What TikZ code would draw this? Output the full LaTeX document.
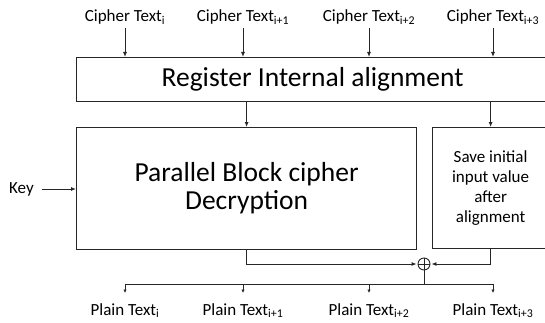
\documentclass[tikz,border=0pt]{standalone}
\usepackage{fontspec}
\setmainfont{Carlito}
\usetikzlibrary{arrows.meta}
\begin{document}
\begin{tikzpicture}[x=1pt,y=1pt,
  box/.style={draw=black!85, line width=1.2pt, anchor=north west, inner sep=0pt, align=center},
  lbl/.style={font=\fontsize{17}{20}\selectfont, inner sep=1pt},
  arr/.style={draw=black!85, line width=0.9pt, -{Latex[length=5pt,width=4pt]}},
  sarr/.style={draw=black!85, line width=0.9pt, -{Latex[length=3.5pt,width=3.5pt]}},
  ln/.style={draw=black!85, line width=0.9pt}]
\useasboundingbox (0,0) rectangle (545,322);
% top labels
\node[lbl, anchor=base] (c1) at (125,300) {Cipher Text\textsubscript{i}};
\node[lbl, anchor=base] (c2) at (243,300) {Cipher Text\textsubscript{i+1}};
\node[lbl, anchor=base] (c3) at (369,300) {Cipher Text\textsubscript{i+2}};
\node[lbl, anchor=base] (c4) at (493,300) {Cipher Text\textsubscript{i+3}};
% boxes
\node[box, minimum width=472pt, minimum height=44pt, font=\fontsize{27.5}{32}\selectfont] (reg) at (76,265) {Register Internal alignment};
\node[box, minimum width=340pt, minimum height=122pt, font=\fontsize{27.5}{28}\selectfont] (par) at (76,195) {Parallel Block cipher\\Decryption};
\node[box, minimum width=116pt, minimum height=121pt, font=\fontsize{17}{20}\selectfont] (save) at (432,195) {Save initial\\input value\\after\\alignment};
% key
\node[lbl, anchor=center] (key) at (21.5,133) {Key};
% xor
\node[draw=black!85, line width=0.9pt, circle, minimum size=12pt, inner sep=0pt] (x) at (424,58) {};
\draw[ln] (x.north) -- (x.south) (x.west) -- (x.east);
\coordinate (bus) at (424,38);
% bottom labels
\node[lbl, anchor=base] (p1) at (125,7) {Plain Text\textsubscript{i}};
\node[lbl, anchor=base] (p2) at (243,7) {Plain Text\textsubscript{i+1}};
\node[lbl, anchor=base] (p3) at (369,7) {Plain Text\textsubscript{i+2}};
\node[lbl, anchor=base] (p4) at (493,7) {Plain Text\textsubscript{i+3}};
% connectors
\foreach \c in {c1,c2,c3,c4} {
  \draw[arr, shorten <=2pt] (\c.south) -- (\c.south |- reg.north);
}
\draw[arr] (reg.south -| par.north) -- (par.north);
\draw[arr] (reg.south -| save.north) -- (save.north);
\draw[arr, shorten <=7pt] (key.east) -- (par.west |- key.east);
\draw[arr, shorten >=1pt] (par.south) |- (x.west);
\draw[arr, shorten >=1pt] (save.south) |- (x.east);
\draw[ln] (x.south) -- (bus);
\draw[ln] (p1.north |- bus) -- (p4.north |- bus);
\foreach \p in {p1,p2,p3,p4} {
  \draw[sarr] (\p.north |- bus) -- ([yshift=9pt]\p.north);
}
\end{tikzpicture}
\end{document}
